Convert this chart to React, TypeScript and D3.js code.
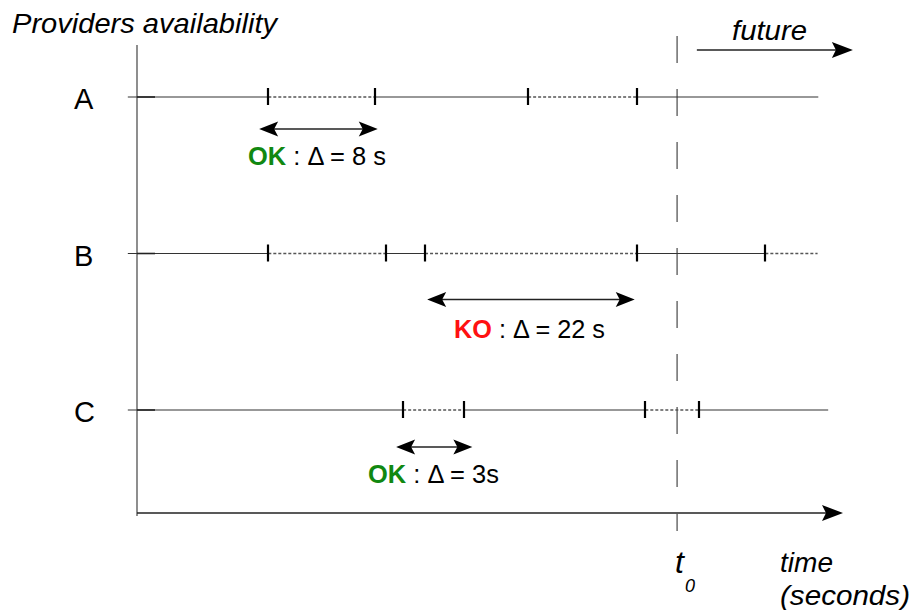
import React from "react";
import * as d3 from "d3";

// Rows (providers)
const rows = ["A", "B", "C"];
// Boundaries on the relative time scale (0..100) for each provider's timeline
const rowEnds = [96.5, 96.4, 97.9];
const rowTicks = [
  [18.6, 33.7, 55.4, 70.8],
  [18.6, 35.3, 40.8, 70.8, 89.0],
  [37.7, 46.3, 72.0, 79.6],
];
// 1 = dotted (unavailable) interval, 0 = solid, for intervals between [start, ...ticks, end]
const rowDotted = [
  [0, 1, 0, 1, 0],
  [0, 1, 0, 1, 0, 1],
  [0, 1, 0, 1, 0],
];
// Measured windows (double arrows)
const windowStart = [17.3, 41.1, 36.7];
const windowEnd = [34.1, 70.5, 47.5];
const verdicts = ["OK", "KO", "OK"];
const deltas = [" : Δ = 8 s", " : Δ = 22 s", " : Δ = 3s"];
const t0Value = 76.5;
const futureRange = [79.3, 101.4];
const lineStart = -1.3;

const W = 912;
const H = 610;

function head(tipX: number, y: number, dir: number, L = 19, h = 7.5) {
  const bx = tipX - dir * L;
  const nx = tipX - dir * (L - 4);
  return `M${tipX},${y}L${bx},${y - h}L${nx},${y}L${bx},${y + h}Z`;
}

export default function App() {
  const x = d3.scaleLinear().domain([0, 100]).range([137, 843]);
  const y = d3.scalePoint<string>().domain(rows).range([97, 410]);
  const axisY = 513;
  const arrowOffset = [32, 46, 37];
  const labelOffset = [68, 84, 73];
  const labelX = [248, 454, 368];
  const labelW = [138, 151, 131];
  const font = "Liberation Sans, Arial, Helvetica, sans-serif";

  return (
    <svg width={W} height={H} style={{ position: "absolute", left: 0, top: 0, background: "#fff" }} fontFamily={font}>
      {/* title */}
      <text x={12} y={33} fontSize={28} fontStyle="italic" textLength={265} lengthAdjust="spacingAndGlyphs">
        Providers availability
      </text>
      {/* y axis */}
      <line x1={x(0)} x2={x(0)} y1={45} y2={axisY + 3} stroke="#444" strokeWidth={1.2} />
      {/* x axis */}
      <line x1={x(0)} x2={x(100) - 15} y1={axisY} y2={axisY} stroke="#222" strokeWidth={1.3} />
      <path d={head(x(100), axisY, 1, 21, 8)} fill="#000" />
      {/* t0 dashed line */}
      <line x1={x(t0Value)} x2={x(t0Value)} y1={36} y2={531} stroke="#555" strokeWidth={1.3} strokeDasharray="27 26" />
      {/* future arrow */}
      <line x1={x(futureRange[0])} x2={x(futureRange[1]) - 15} y1={50} y2={50} stroke="#222" strokeWidth={1.3} />
      <path d={head(x(futureRange[1]), 50, 1, 21, 8)} fill="#000" />
      <text x={732} y={40} fontSize={28} fontStyle="italic" textLength={75} lengthAdjust="spacingAndGlyphs">
        future
      </text>
      {/* rows */}
      {rows.map((r, i) => {
        const yy = y(r)!;
        const bounds = [lineStart, ...rowTicks[i], rowEnds[i]];
        return (
          <g key={r}>
            <text x={74} y={yy + 12} fontSize={29}>
              {r}
            </text>
            {bounds.slice(0, -1).map((b, j) => (
              <line
                key={j}
                x1={x(b)}
                x2={x(bounds[j + 1])}
                y1={yy}
                y2={yy}
                stroke={rowDotted[i][j] ? "#555" : "#333"}
                strokeWidth={rowDotted[i][j] ? 1.3 : 1.2}
                strokeDasharray={rowDotted[i][j] ? "3 2" : undefined}
              />
            ))}
            <line x1={x(0)} x2={x(0) + 18} y1={yy} y2={yy} stroke="#222" strokeWidth={1.6} />
            {rowTicks[i].map((t, j) => (
              <line
                key={"t" + j}
                x1={Math.round(x(t))}
                x2={Math.round(x(t))}
                y1={yy - 9}
                y2={yy + 8}
                stroke="#000"
                strokeWidth={2.2}
              />
            ))}
            {/* double arrow */}
            <line
              x1={x(windowStart[i]) + 12}
              x2={x(windowEnd[i]) - 12}
              y1={yy + arrowOffset[i]}
              y2={yy + arrowOffset[i]}
              stroke="#222"
              strokeWidth={1.3}
            />
            <path d={head(x(windowStart[i]), yy + arrowOffset[i], -1)} fill="#000" />
            <path d={head(x(windowEnd[i]), yy + arrowOffset[i], 1)} fill="#000" />
            <text
              x={labelX[i]}
              y={yy + labelOffset[i]}
              fontSize={26}
              textLength={labelW[i]}
              lengthAdjust="spacingAndGlyphs"
            >
              <tspan fontWeight="bold" fill={verdicts[i] === "OK" ? "#118811" : "#ff1111"}>
                {verdicts[i]}
              </tspan>
              <tspan fill="#000">{deltas[i]}</tspan>
            </text>
          </g>
        );
      })}
      {/* t0 label */}
      <text x={675} y={573} fontSize={32} fontStyle="italic">
        t
      </text>
      <text x={685} y={592} fontSize={18} fontStyle="italic">
        0
      </text>
      {/* time label */}
      <text x={780} y={572} fontSize={28} fontStyle="italic" textLength={53} lengthAdjust="spacingAndGlyphs">
        time
      </text>
      <text x={780} y={605} fontSize={28} fontStyle="italic" textLength={130} lengthAdjust="spacingAndGlyphs">
        (seconds)
      </text>
    </svg>
  );
}
